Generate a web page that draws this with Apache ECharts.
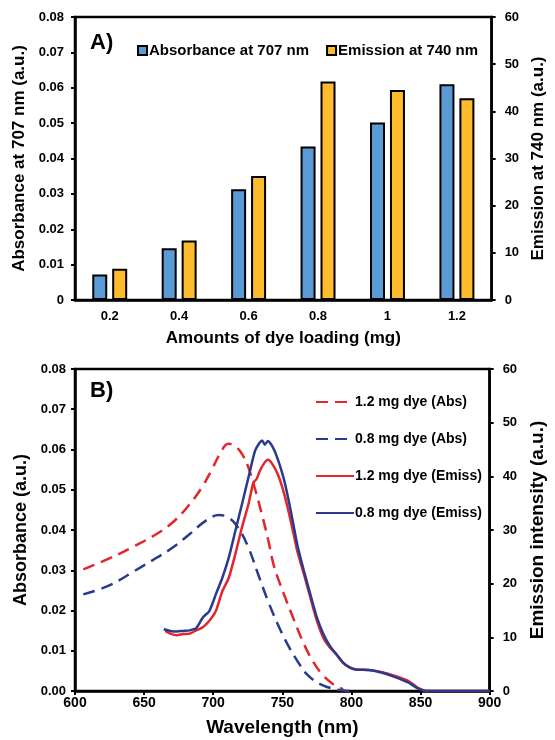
<!DOCTYPE html>
<html>
<head>
<meta charset="utf-8">
<script src="https://cdn.jsdelivr.net/npm/echarts@6/dist/echarts.min.js"></script>
<style>
html,body{margin:0;padding:0;background:#fff;}
#c{width:555px;height:740px;}
</style>
</head>
<body>
<div id="c"></div>
<script>
// ---- Panel A data ----
var loadings = ['0.2', '0.4', '0.6', '0.8', '1', '1.2'];
var absorbance707 = [0.0072, 0.0146, 0.0313, 0.0434, 0.0502, 0.0610];
var emission740 = [6.6, 12.6, 26.3, 46.3, 44.5, 42.8];
var leftTicksA = [0, 0.08, 0.01];
var rightTicks = [0, 60, 10];

// ---- Panel B data ([wavelength nm, value]) ----
var abs12 = [[606,0.0302],[624,0.0328],[643,0.0360],[659,0.0390],[671,0.0420],[683,0.0464],[692,0.0507],[699,0.0550],[705,0.0590],[711,0.0614],[716,0.0608],[721,0.0588],[725.5,0.0555],[730,0.0505],[735,0.0442],[740,0.0372],[744,0.0310],[751,0.0242],[758.5,0.0176],[765.6,0.0117],[772.6,0.0071],[779.7,0.0038],[786.8,0.0017],[794,0.0004]];
var abs08 = [[606,0.0240],[624,0.0261],[643,0.0298],[659,0.0331],[671,0.0357],[683,0.0390],[695,0.0424],[704,0.0437],[711,0.0431],[718,0.0406],[725.5,0.0356],[732.5,0.0290],[739.6,0.0224],[746.7,0.0166],[753.8,0.0116],[760.8,0.0075],[767.9,0.0041],[777.4,0.0017],[789,0.0004],[798.6,0.0]];
var emi12 = [[665.3,11.2],[668.9,10.7],[673.6,10.4],[678.3,10.6],[683,10.7],[687.7,11.3],[692.5,11.9],[697.2,13.1],[701.9,14.9],[706.6,18.6],[711.3,21.1],[716,25.5],[720.8,30.5],[725.5,34.8],[729,38.8],[731.4,39.5],[733.7,41.0],[737.3,42.6],[739.6,43.1],[742,42.6],[746.7,40.4],[751.4,36.7],[756.1,31.7],[760.8,26.1],[765.6,21.8],[770.3,17.4],[775,13.1],[779.7,9.9],[784.4,8.1],[789.2,6.8],[793.9,5.3],[798.6,4.4],[803.3,4.0],[812.7,3.9],[822.2,3.5],[831.6,2.8],[841,1.9],[848.1,0.6],[855.2,0],[900,0]];
var emi08 = [[664.2,11.5],[668.9,11.2],[673.6,11.1],[678.3,11.2],[683,11.3],[687.7,11.7],[692.5,13.7],[697.2,14.9],[701.9,18.0],[706.6,21.1],[711.3,24.9],[716,29.8],[720.8,34.8],[725.5,39.8],[730.2,44.7],[733.7,46.3],[735.4,46.7],[737.3,45.9],[739.6,46.6],[743.2,45.4],[746.7,43.2],[751.4,39.2],[756.1,33.6],[760.8,27.3],[765.6,22.4],[770.3,18.0],[775,13.7],[779.7,10.6],[784.4,8.4],[789.2,6.8],[793.9,5.3],[798.6,4.4],[803.3,4.0],[812.7,3.9],[822.2,3.4],[831.6,2.6],[841,1.6],[848.1,0.5],[855.2,0],[900,0]];
var wlTicks = [600, 900, 50];
var leftTicksB = [0, 0.08, 0.01];

var FONT = 'Liberation Sans';
var RED = '#E3262B', NAVY = '#2A3A8F';
var BLUE_BAR = '#5B9BD5', YEL_BAR = '#FDBB2D';

function axisCommon() {
  return {
    axisLine: {show: true, lineStyle: {color: '#000', width: 2.5}},
    axisTick: {show: true, inside: false, length: 4, lineStyle: {color: '#000', width: 2}},
    splitLine: {show: false},
    axisLabel: {color: '#000', fontFamily: FONT, fontWeight: 'bold', fontSize: 13},
    nameTextStyle: {color: '#000', fontFamily: FONT, fontWeight: 'bold', fontSize: 17},
    nameLocation: 'middle'
  };
}
function ax(extra) {
  var a = axisCommon();
  for (var k in extra) {
    if (typeof extra[k] === 'object' && !Array.isArray(extra[k]) && a[k]) {
      for (var j in extra[k]) a[k][j] = extra[k][j];
    } else a[k] = extra[k];
  }
  return a;
}

var chart = echarts.init(document.getElementById('c'), null, {renderer: 'canvas'});
var option = {
  animation: false,
  backgroundColor: '#fff',
  grid: [
    {left: 75, right: 56, top: 17, height: 283, show: true, borderColor: '#000', borderWidth: 2.5, backgroundColor: 'transparent'},
    {left: 75, right: 56, top: 369, height: 322, show: true, borderColor: '#000', borderWidth: 2.5, backgroundColor: 'transparent'}
  ],
  legend: [
    {
      data: ['Absorbance at 707 nm', 'Emission at 740 nm'],
      left: 132, top: 38, orient: 'horizontal',
      itemWidth: 9, itemHeight: 9, itemGap: 17,
      icon: 'rect',
      textStyle: {color: '#000', fontFamily: FONT, fontWeight: 'bold', fontSize: 15, padding: [0,0,0,-3]}
    },
    {
      data: ['1.2 mg dye (Abs)', '0.8 mg dye (Abs)', '1.2 mg dye (Emiss)', '0.8 mg dye (Emiss)'],
      left: 310, top: 390, orient: 'vertical',
      itemWidth: 38, itemHeight: 14, itemGap: 23,
      itemStyle: {opacity: 0},
      textStyle: {color: '#000', fontFamily: FONT, fontWeight: 'bold', fontSize: 14, padding: [0,0,0,-4]}
    }
  ],
  xAxis: [
    ax({type: 'category', gridIndex: 0, data: loadings, name: 'Amounts of dye loading (mg)', nameGap: 30,
        axisTick: {show: false}, axisLabel: {margin: 10, fontSize: 13}}),
    ax({type: 'value', gridIndex: 1, min: wlTicks[0], max: wlTicks[1], interval: wlTicks[2],
        name: 'Wavelength (nm)', nameGap: 27, nameTextStyle: {fontSize: 19},
        axisLabel: {margin: 5, fontSize: 14}})
  ],
  yAxis: [
    ax({type: 'value', gridIndex: 0, position: 'left', min: leftTicksA[0], max: leftTicksA[1], interval: leftTicksA[2],
        name: 'Absorbance at 707 nm (a.u.)', nameGap: 45, nameRotate: 90,
        axisLabel: {margin: 11, formatter: function (v) { return +v.toFixed(2) + ''; }}}),
    ax({type: 'value', gridIndex: 0, position: 'right', min: rightTicks[0], max: rightTicks[1], interval: rightTicks[2],
        name: 'Emission at 740 nm (a.u.)', nameGap: 33, nameRotate: 90,
        axisLabel: {margin: 13}}),
    ax({type: 'value', gridIndex: 1, position: 'left', min: leftTicksB[0], max: leftTicksB[1], interval: leftTicksB[2],
        name: 'Absorbance (a.u.)', nameGap: 45, nameRotate: 90, nameTextStyle: {fontSize: 18},
        axisLabel: {margin: 9, formatter: function (v) { return v.toFixed(2); }}}),
    ax({type: 'value', gridIndex: 1, position: 'right', min: rightTicks[0], max: rightTicks[1], interval: rightTicks[2],
        name: 'Emission intensity (a.u.)', nameGap: 32, nameRotate: 90, nameTextStyle: {fontSize: 19},
        axisLabel: {margin: 13}})
  ],
  series: [
    {name: 'Absorbance at 707 nm', type: 'bar', xAxisIndex: 0, yAxisIndex: 0, data: absorbance707,
     barWidth: 15, barGap: '33%',
     itemStyle: {color: BLUE_BAR, borderColor: '#000', borderWidth: 2}},
    {name: 'Emission at 740 nm', type: 'bar', xAxisIndex: 0, yAxisIndex: 1, data: emission740,
     barWidth: 15, barGap: '33%',
     itemStyle: {color: YEL_BAR, borderColor: '#000', borderWidth: 2}},
    {name: '1.2 mg dye (Abs)', type: 'line', xAxisIndex: 1, yAxisIndex: 2, data: abs12, smooth: 0.4,
     symbol: 'none', showSymbol: false, lineStyle: {color: RED, width: 2.5, type: [12, 7]}, itemStyle: {color: RED}},
    {name: '0.8 mg dye (Abs)', type: 'line', xAxisIndex: 1, yAxisIndex: 2, data: abs08, smooth: 0.4,
     symbol: 'none', showSymbol: false, lineStyle: {color: NAVY, width: 2.5, type: [12, 7]}, itemStyle: {color: NAVY}},
    {name: '1.2 mg dye (Emiss)', type: 'line', xAxisIndex: 1, yAxisIndex: 3, data: emi12, smooth: 0.2,
     symbol: 'none', showSymbol: false, lineStyle: {color: RED, width: 2.5}, itemStyle: {color: RED}},
    {name: '0.8 mg dye (Emiss)', type: 'line', xAxisIndex: 1, yAxisIndex: 3, data: emi08, smooth: 0.2,
     symbol: 'none', showSymbol: false, lineStyle: {color: NAVY, width: 2.5}, itemStyle: {color: NAVY}}
  ],
  graphic: [
    {type: 'text', left: 90, top: 32, style: {text: 'A)', fill: '#000', font: 'bold 22px "Liberation Sans"'}},
    {type: 'text', left: 90, top: 380, style: {text: 'B)', fill: '#000', font: 'bold 22px "Liberation Sans"'}}
  ]
};
chart.setOption(option);
</script>
</body>
</html>
